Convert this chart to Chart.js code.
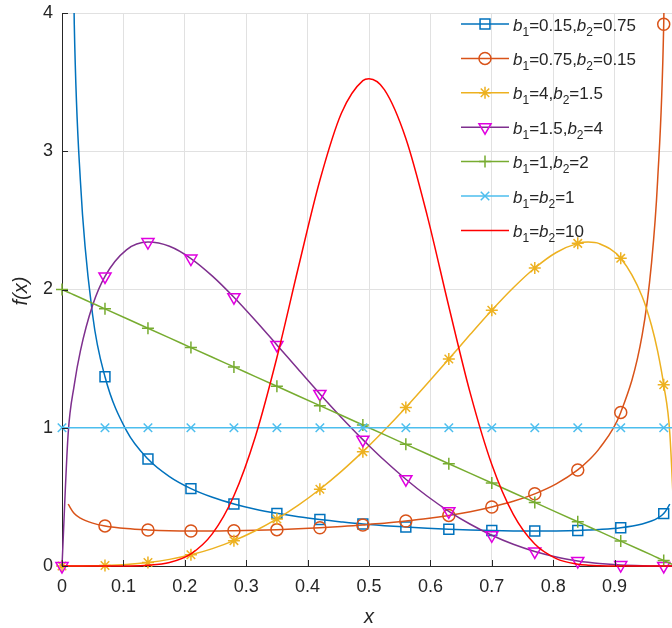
<!DOCTYPE html>
<html>
<head>
<meta charset="utf-8">
<script src="https://cdn.jsdelivr.net/npm/chart.js@4.4.1/dist/chart.umd.min.js"></script>
<style>
  html, body { margin: 0; padding: 0; background: #fff; overflow: hidden; }
  #wrap { position: absolute; left: 0; top: 0; width: 680px; height: 628px; }
</style>
</head>
<body>
<div id="wrap"><canvas id="betaChart"></canvas></div>
<script>
// x grid of the curves
var xs = [0, 0.01, 0.02, 0.03, 0.05, 0.07, 0.105, 0.14, 0.175, 0.21, 0.245, 0.28, 0.315, 0.35, 0.385,
          0.42, 0.455, 0.49, 0.5, 0.525, 0.56, 0.595, 0.63, 0.665, 0.7, 0.735, 0.77, 0.805, 0.84, 0.857,
          0.875, 0.91, 0.945, 0.96, 0.97, 0.98, 0.99, 1];
// where the markers sit
var markX = [0, 0.07, 0.14, 0.21, 0.28, 0.35, 0.42, 0.49, 0.56, 0.63, 0.7, 0.77, 0.84, 0.91, 0.98];

var yA = [null, 7.044, 3.918, 2.783, 1.812, 1.369, 0.979, 0.774, 0.647, 0.560, 0.497, 0.449, 0.411, 0.381,
          0.356, 0.336, 0.319, 0.304, 0.301, 0.292, 0.282, 0.273, 0.266, 0.261, 0.257, 0.254, 0.253,
          0.254, 0.257, 0.260, 0.264, 0.277, 0.304, 0.325, 0.346, 0.379, 0.447, null];
var yB = [null, 0.447, 0.379, 0.346, 0.310, 0.290, 0.271, 0.261, 0.255, 0.253, 0.253, 0.255, 0.258, 0.263,
          0.269, 0.277, 0.286, 0.297, 0.301, 0.310, 0.326, 0.344, 0.366, 0.393, 0.427, 0.468, 0.522,
          0.594, 0.695, 0.761, 0.849, 1.111, 1.673, 2.185, 2.783, 3.918, 7.044, null];
var yC = [0, 0, 0.0001, 0.0003, 0.0012, 0.0033, 0.0108, 0.0251, 0.0479, 0.0810, 0.1258, 0.1834, 0.2547,
          0.3403, 0.4405, 0.5554, 0.6845, 0.8271, 0.8701, 0.9817, 1.1467, 1.3196, 1.4972, 1.6755,
          1.8494, 2.0121, 2.1552, 2.2677, 2.3338, 2.3429, 2.3315, 2.2254, 1.9482, 1.7418, 1.5561, 1.3103,
          0.9551, 0];
var yD = [0, 0.9551, 1.3103, 1.5561, 1.8872, 2.0949, 2.2868, 2.3427, 2.3123, 2.2241, 2.0970, 1.9442,
          1.7758, 1.5993, 1.4207, 1.2447, 1.0749, 0.9141, 0.8701, 0.7644, 0.6275, 0.5044, 0.3958,
          0.3018, 0.2224, 0.1571, 0.1051, 0.0655, 0.0370, 0.0267, 0.0180, 0.0069, 0.0016, 0.0006, 0.0003,
          0.0001, 0, 0];
var yE = [2, 1.98, 1.96, 1.94, 1.90, 1.86, 1.79, 1.72, 1.65, 1.58, 1.51, 1.44, 1.37, 1.30, 1.23, 1.16,
          1.09, 1.02, 1.00, 0.95, 0.88, 0.81, 0.74, 0.67, 0.60, 0.53, 0.46, 0.39, 0.32, 0.286, 0.25, 0.18,
          0.11, 0.08, 0.06, 0.04, 0.02, 0];
var yF = [1, 1, 1, 1, 1, 1, 1, 1, 1, 1, 1, 1, 1, 1, 1, 1, 1, 1, 1, 1, 1, 1, 1, 1, 1, 1, 1, 1, 1, 1, 1,
          1, 1, 1, 1, 1, 1, 1];
var yG = [0, 0, 0, 0, 0, 0, 0.0005, 0.0049, 0.0252, 0.0880, 0.2342, 0.5081, 0.9366, 1.5080, 2.1607,
          2.7903, 3.2752, 3.5112, 3.5239, 3.4454, 3.0926, 2.5310, 1.8770, 1.2484, 0.7338, 0.3727,
          0.1584, 0.0535, 0.0132, 0.0058, 0.0021, 0.0002, 0, 0, 0, 0, 0, 0];

var names = ['b_1=0.15,b_2=0.75', 'b_1=0.75,b_2=0.15', 'b_1=4,b_2=1.5', 'b_1=1.5,b_2=4',
             'b_1=1,b_2=2', 'b_1=b_2=1', 'b_1=b_2=10'];
var xTicks = [0, 0.1, 0.2, 0.3, 0.4, 0.5, 0.6, 0.7, 0.8, 0.9];
var yTicks = [0, 1, 2, 3, 4];

var FONT = "'Liberation Sans', Arial, Helvetica, sans-serif";
var INK = '#262626';

var series = [
    {y: yA, line: '#0072BD', mark: '#0072BD', style: 'rect', r: 7, rot: 0},
    {y: yB, line: '#D95319', mark: '#D95319', style: 'circle', r: 6, rot: 0},
    {y: yC, line: '#EDB120', mark: '#EDB120', style: 'star', r: 6, rot: 0},
    {y: yD, line: '#7E2F8E', mark: '#E000E0', style: 'triangle', r: 7, rot: 180},
    {y: yE, line: '#77AC30', mark: '#77AC30', style: 'cross', r: 6, rot: 0},
    {y: yF, line: '#4DBEEE', mark: '#4DBEEE', style: 'crossRot', r: 6, rot: 0},
    {y: yG, line: '#FF0000', mark: '#FF0000', style: false, r: 0, rot: 0}
];

function isMark(x) {
    return markX.some(function (m) { return Math.abs(m - x) < 1e-9; });
}

var datasets = series.map(function (s, i) {
    return {
        label: names[i],
        data: xs.map(function (x, k) { return {x: x, y: s.y[k]}; }),
        borderColor: s.line,
        borderWidth: 1.5,
        backgroundColor: 'rgba(0,0,0,0)',
        pointBackgroundColor: 'rgba(0,0,0,0)',
        pointBorderColor: s.mark,
        pointBorderWidth: 1.5,
        pointStyle: s.style || 'circle',
        pointRotation: s.rot,
        pointRadius: function (c) { return s.style && c.raw && isMark(c.raw.x) ? s.r : 0; },
        pointHoverRadius: 0,
        cubicInterpolationMode: 'monotone',
        spanGaps: false,
        clip: {left: 10, top: 0, right: 10, bottom: 10},
        order: -i
    };
});

// legend, axis titles and inward ticks
function richText(ctx, str, x, y) {
    var i = 0;
    while (i < str.length) {
        var ch = str[i];
        if (ch === '_') {
            ctx.font = '12px ' + FONT;
            ctx.fillText(str[i + 1], x, y + 5);
            x += ctx.measureText(str[i + 1]).width;
            i += 2;
            continue;
        }
        ctx.font = (ch === 'b' ? 'italic ' : '') + '17px ' + FONT;
        ctx.fillText(ch, x, y);
        x += ctx.measureText(ch).width;
        i++;
    }
}

var decor = {
    id: 'decor',
    afterDraw: function (chart) {
        var ctx = chart.ctx, a = chart.chartArea;
        var sx = chart.scales.x, sy = chart.scales.y;
        ctx.save();
        ctx.strokeStyle = INK;
        ctx.lineWidth = 1;
        ctx.beginPath();
        sy.ticks.forEach(function (t) {
            var p = Math.round(sy.getPixelForValue(t.value)) + 0.5;
            ctx.moveTo(a.left, p); ctx.lineTo(a.left + 6, p);
        });
        sx.ticks.forEach(function (t) {
            var p = Math.round(sx.getPixelForValue(t.value)) + 0.5;
            ctx.moveTo(p, a.bottom); ctx.lineTo(p, a.bottom - 6);
        });
        ctx.stroke();

        ctx.fillStyle = INK;
        ctx.font = 'italic 20px ' + FONT;
        ctx.textAlign = 'center';
        ctx.textBaseline = 'alphabetic';
        ctx.fillText('x', sx.getPixelForValue(0.5), 623);
        ctx.save();
        ctx.translate(21, 291);
        ctx.rotate(-Math.PI / 2);
        ctx.textBaseline = 'middle';
        ctx.fillText('f(x)', 0, 0);
        ctx.restore();

        ctx.textAlign = 'left';
        ctx.textBaseline = 'alphabetic';
        series.forEach(function (s, i) {
            var y = 24 + i * 34.4;
            ctx.strokeStyle = s.line;
            ctx.lineWidth = 1.5;
            ctx.beginPath();
            ctx.moveTo(461, y); ctx.lineTo(509, y);
            ctx.stroke();
            if (s.style && Chart.helpers && Chart.helpers.drawPoint) {
                ctx.strokeStyle = s.mark;
                ctx.fillStyle = 'rgba(0,0,0,0)';
                Chart.helpers.drawPoint(ctx, {pointStyle: s.style, rotation: s.rot, radius: s.r, borderWidth: 1.5}, 485, y);
            }
            ctx.fillStyle = INK;
            richText(ctx, names[i], 513, y + 6.5);
        });
        ctx.restore();
    }
};

new Chart(document.getElementById('betaChart'), {
    type: 'line',
    data: {datasets: datasets},
    options: {
        responsive: true,
        maintainAspectRatio: false,
        animation: false,
        events: [],
        layout: {autoPadding: false, padding: {top: 13, right: 4, left: 0, bottom: 0}},
        plugins: {legend: {display: false}, tooltip: {enabled: false}},
        scales: {
            x: {
                type: 'linear', min: 0, max: 1,
                afterFit: function (s) { s.height = 62; s.paddingLeft = 0; s.paddingRight = 0; },
                afterBuildTicks: function (s) { s.ticks = xTicks.map(function (v) { return {value: v}; }); },
                ticks: {
                    padding: 10, color: INK, maxRotation: 0,
                    font: {family: FONT, size: 18},
                    callback: function (v) { return String(v); }
                },
                grid: {color: '#E1E1E1', drawTicks: false},
                border: {color: INK, width: 1}
            },
            y: {
                min: 0, max: 4,
                afterFit: function (s) { s.width = 62; s.paddingTop = 0; s.paddingBottom = 0; },
                afterBuildTicks: function (s) { s.ticks = yTicks.map(function (v) { return {value: v}; }); },
                ticks: {padding: 9, color: INK, font: {family: FONT, size: 18}},
                grid: {color: '#E1E1E1', drawTicks: false},
                border: {color: INK, width: 1}
            }
        }
    },
    plugins: [decor]
});
</script>
</body>
</html>
